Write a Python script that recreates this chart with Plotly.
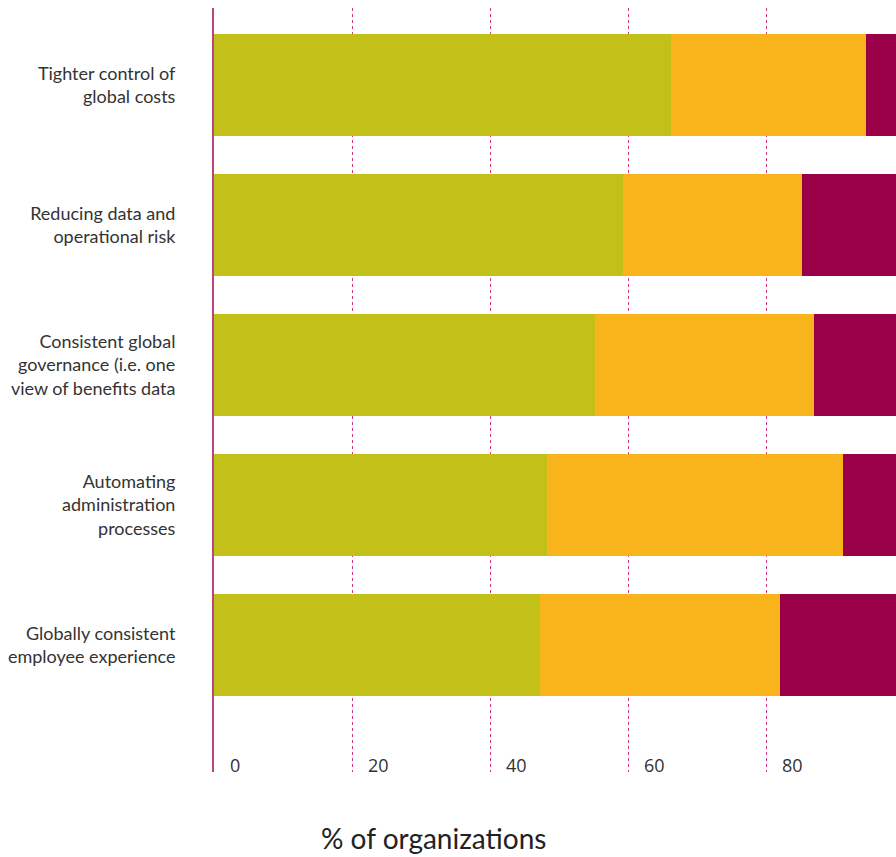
import plotly.graph_objects as go

categories = [
    "Tighter control of<br>global costs",
    "Reducing data and<br>operational risk",
    "Consistent global<br>governance (i.e. one<br>view of benefits data",
    "Automating<br>administration<br>processes",
    "Globally consistent<br>employee experience",
]
green_vals = [66.2, 59.3, 55.2, 48.2, 47.2]
orange_vals = [28.3, 25.9, 31.8, 43.0, 34.8]
red_vals = [5.5, 14.8, 13.0, 8.8, 18.0]
tick_vals = [0, 20, 40, 60, 80]

GREEN = "#C3C119"
ORANGE = "#F9B31B"
RED = "#990047"
AXIS = "#B5477E"
GRID = "#C8387A"
X_RANGE = [0, 98.84]

fig = go.Figure()
for vals, col, name in [(green_vals, GREEN, "a"), (orange_vals, ORANGE, "b"), (red_vals, RED, "c")]:
    fig.add_trace(go.Bar(
        y=categories, x=vals, orientation="h", name=name,
        marker=dict(color=col, line=dict(width=0)), width=0.73,
    ))
# invisible helper trace on the label axis
fig.add_trace(go.Scatter(x=[tick_vals[0]], y=[categories[0]], xaxis="x2",
                         mode="markers", marker=dict(opacity=0), hoverinfo="skip",
                         showlegend=False))

fig.update_layout(
    barmode="stack",
    width=896, height=857,
    margin=dict(l=214, r=0, t=8, b=75),
    paper_bgcolor="white", plot_bgcolor="white",
    showlegend=False,
    font=dict(family="Lato, sans-serif", color="#333333"),
    xaxis=dict(
        range=X_RANGE, tickvals=tick_vals, showticklabels=False,
        showgrid=True, gridcolor=GRID, gridwidth=1, griddash="dot",
        zeroline=False, showline=False, ticks="",
    ),
    xaxis2=dict(
        range=X_RANGE, overlaying="x", anchor="free", position=0,
        tickvals=tick_vals, ticktext=[str(v) for v in tick_vals],
        showgrid=False, zeroline=False, showline=False, ticks="",
        ticklabelposition="inside right", ticklabelshift=16,
        tickfont=dict(family="Open Sans, sans-serif", size=18, color="#333333"),
    ),
    yaxis=dict(
        domain=[10 / 774, 1],
        range=[4.907, -0.55],
        showgrid=False, zeroline=False,
        showline=True, linecolor=AXIS, linewidth=2,
        ticks="", ticklabelstandoff=33,
        tickfont=dict(family="Lato, sans-serif", size=18, color="#333333"),
    ),
)
fig.add_annotation(
    text="% of organizations", xref="paper", yref="paper",
    x=(433 - 214) / (896 - 214), y=(782 - 838) / 774,
    xanchor="center", yanchor="middle", showarrow=False,
    font=dict(family="Lato, sans-serif", size=28, color="#222222"),
)
fig.write_html("out.html")
